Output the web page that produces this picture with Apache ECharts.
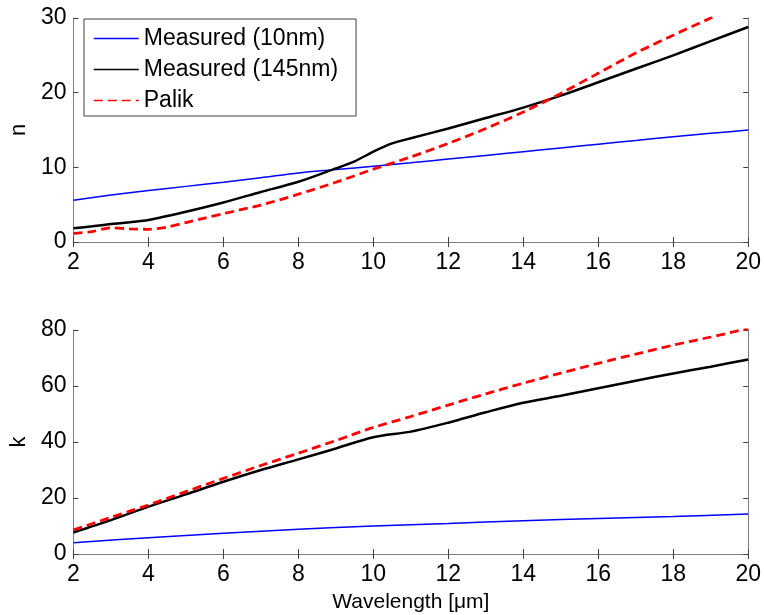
<!DOCTYPE html>
<html><head><meta charset="utf-8">
<script src="https://cdn.jsdelivr.net/npm/echarts@6/dist/echarts.min.js"></script>
<style>html,body{margin:0;padding:0;background:#fff}#c{width:764px;height:615px}</style>
</head><body><div id="c"></div>
<script>
// Top panel: refractive index n
const nBlueX = [2,3,4,5,6,7,8,9,10,11,12,13,14,15,16,17,18,19,20];
const nBlueY = [5.6,6.3,6.9,7.45,8.0,8.6,9.25,9.7,10.15,10.6,11.1,11.6,12.1,12.6,13.1,13.6,14.1,14.55,15.0];
const nBlackX = [2,2.5,3,3.5,4,5,6,7,8,9,9.5,10,10.5,11,12,13,14,15,16,17,18,19,20];
const nBlackY = [1.85,2.1,2.4,2.65,2.95,4.06,5.3,6.7,8.07,9.86,10.8,12.1,13.2,13.9,15.2,16.6,18.0,19.6,21.4,23.2,25.0,26.9,28.8];
const nRedX = [2,2.5,3,3.5,4,4.5,5,5.5,6,7,8,9,10,11,12,13,14,15,16,17,18,19,20];
const nRedY = [1.15,1.4,1.9,1.75,1.7,2.0,2.6,3.2,3.8,4.95,6.4,8.0,9.75,11.4,13.2,15.2,17.4,19.9,22.6,25.3,27.7,30.0,32.3];
// Bottom panel: extinction coefficient k
const kBlueX = [2,4,6,8,10,12,14,16,18,20];
const kBlueY = [4.05,5.8,7.4,8.8,10.0,10.9,11.9,12.7,13.4,14.3];
const kBlackX = [2,3,4,5,6,7,8,9,10,11,12,13,14,15,16,17,18,19,20];
const kBlackY = [7.7,12.1,16.9,21.3,25.8,30.0,33.8,37.7,41.7,43.7,46.9,50.6,54.0,56.5,59.2,61.9,64.5,66.9,69.5];
const kRedX = [2,3,4,5,6,7,8,9,10,11,12,13,14,15,16,17,18,19,20];
const kRedY = [8.6,13.1,17.5,22.3,27.0,31.6,36.0,40.5,45.2,49.1,53.2,57.2,61.0,64.6,68.1,71.4,74.6,77.5,80.5];

const xTicks = [2,4,6,8,10,12,14,16,18,20];
const nTicks = [0,10,20,30];
const kTicks = [0,20,40,60,80];
const names = ['Measured (10nm)','Measured (145nm)','Palik'];
const xName = 'Wavelength [\u03bcm]';

const zip = (xs, ys) => xs.map((x,i)=>[x, ys[i]]);
const FONT = '"Liberation Sans", Arial, sans-serif';
const axisCol = '#7f7f7f';

function xAxes(gi, showName) {
  const base = {
    type:'value', gridIndex:gi, min:2, max:20, interval:2,
    axisLine:{show:true, lineStyle:{color:axisCol, width:1}},
    axisTick:{show:true, inside:true, length:5, lineStyle:{color:'#404040'}},
    splitLine:{show:false},
  };
  return [
    Object.assign({}, base, {position:'bottom',
      axisLabel:{show:true, color:'#000', fontSize:23, fontFamily:FONT, margin:9},
      name: showName ? xName : '', nameLocation:'middle', nameGap:38,
      nameTextStyle:{color:'#000', fontSize:21, fontFamily:FONT}}),
    Object.assign({}, base, {position:'top', axisLabel:{show:false}})
  ];
}
function yAxes(gi, max, interval, name) {
  const base = {
    type:'value', gridIndex:gi, min:0, max:max, interval:interval,
    axisLine:{show:true, lineStyle:{color:axisCol, width:1}},
    axisTick:{show:true, inside:true, length:5, lineStyle:{color:'#404040'}},
    splitLine:{show:false},
  };
  return [
    Object.assign({}, base, {position:'left',
      axisLabel:{show:true, color:'#000', fontSize:23, fontFamily:FONT, margin:7},
      name:name, nameLocation:'middle', nameGap:37,
      nameTextStyle:{color:'#000', fontSize:22, fontFamily:FONT}}),
    Object.assign({}, base, {position:'right', axisLabel:{show:false}})
  ];
}
function trio(xi, yi, b, k, r) {
  return [
    {name:names[0], type:'line', xAxisIndex:xi, yAxisIndex:yi, data:b, symbol:'none', smooth:0.3,
      lineStyle:{color:'#0000ff', width:1.5}, itemStyle:{color:'#0000ff'}, clip:true},
    {name:names[1], type:'line', xAxisIndex:xi, yAxisIndex:yi, data:k, symbol:'none', smooth:0.3,
      lineStyle:{color:'#000000', width:2.5}, itemStyle:{color:'#000'}, clip:true},
    {name:names[2], type:'line', xAxisIndex:xi, yAxisIndex:yi, data:r, symbol:'none', smooth:0.3,
      lineStyle:{color:'#ff0000', width:2.8, type:[9,5]}, itemStyle:{color:'#ff0000'}, clip:true, z:3},
  ];
}

const chart = echarts.init(document.getElementById('c'), null, {renderer:'canvas'});
chart.setOption({
  animation:false,
  backgroundColor:'#fff',
  textStyle:{fontFamily:FONT},
  grid:[
    {left:70, right:14, top:18, height:224},
    {left:70, right:14, top:330, height:224},
  ],
  xAxis:[...xAxes(0,false), ...xAxes(1,true)],
  yAxis:[...yAxes(0,30,10,'n'), ...yAxes(1,80,20,'k')],
  legend:{
    data:names, orient:'vertical', left:84, top:19, width:273,
    padding:[8,18,4,9], itemGap:8, itemWidth:45, itemHeight:14,
    borderColor:'#404040', borderWidth:1, backgroundColor:'#fff',
    itemStyle:{opacity:0},
    lineStyle:{width:1.5},
    textStyle:{color:'#000', fontSize:23, fontFamily:FONT},
    selectedMode:false
  },
  series:[
    ...trio(0,0, zip(nBlueX,nBlueY), zip(nBlackX,nBlackY), zip(nRedX,nRedY)),
    ...trio(2,2, zip(kBlueX,kBlueY), zip(kBlackX,kBlackY), zip(kRedX,kRedY)),
  ]
});
</script></body></html>
